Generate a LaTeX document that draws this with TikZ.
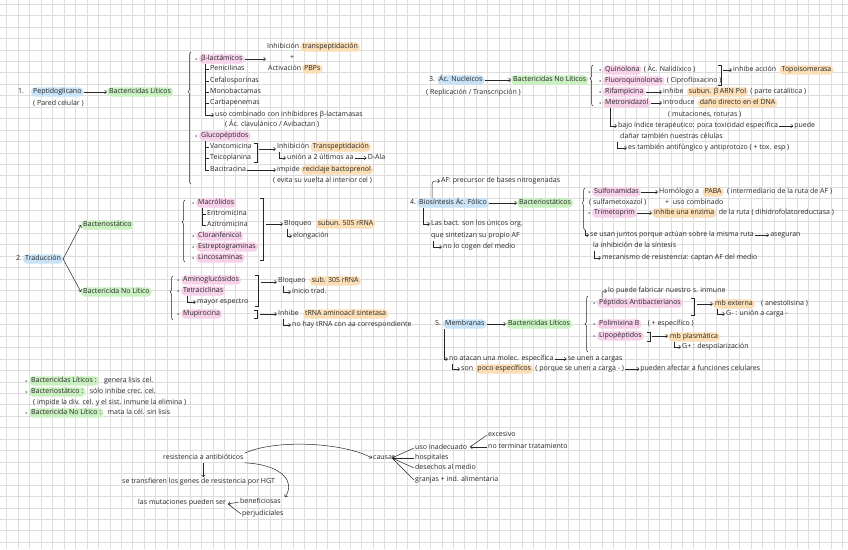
\documentclass[tikz,border=0pt]{standalone}
\usepackage{fontspec}
\setmainfont{Open Sans}
\usetikzlibrary{arrows.meta,positioning,decorations.pathreplacing}
\definecolor{ink}{HTML}{262626}
\definecolor{gridc}{HTML}{DEDEDE}
\definecolor{hlb}{HTML}{C9E2F6}
\definecolor{hlg}{HTML}{C8F0C0}
\definecolor{hlp}{HTML}{F7D0EA}
\definecolor{hlo}{HTML}{FBDDB6}
\tikzset{
  txt/.style={anchor=west, inner xsep=1pt, inner ysep=1pt, text height=5.5pt, text depth=1.7pt,
    text=ink, font=\fontsize{7}{8}\selectfont},
  hl/.style={txt, fill=#1, rounded corners=4pt, inner xsep=2pt},
  blu/.style={hl=hlb}, grn/.style={hl=hlg}, pnk/.style={hl=hlp}, org/.style={hl=hlo},
  bul/.style={label={[circle, fill=ink, inner sep=0pt, minimum size=1.5pt, label distance=2pt]left:}},
  ln/.style={draw=ink, line width=0.5pt},
  arr/.style={ln, -{Straight Barb[length=2pt,width=3.5pt]}},
  brc/.style={ln, decorate, decoration={brace, amplitude=3pt, aspect=#1}},
}
\begin{document}
\begin{tikzpicture}[x=1pt, y=-1pt]
  \fill[white] (0,0) rectangle (848,549);
  \useasboundingbox (0,0) rectangle (848,549);
  % grid paper
  \foreach \i in {0,...,73} \draw[gridc, line width=0.5pt] ({6.7+\i*11.45},0) -- ++(0,549);
  \foreach \j in {0,...,47} \draw[gridc, line width=0.5pt] (0,{3.95+\j*11.45}) -- ++(848,0);

  % 1. peptidoglicano
  \node[txt] (n1) at (17,92) {1.};
  \node[blu] (pep) at (31,92) {Peptidoglicano};
  \node[txt] (parcel) at (32,104) {( Pared celular )};
  \node[grn] (bl1) at (107,92) {Bactericidas Líticos};
  \draw[arr] (pep) -- (bl1);
  \draw[brc=0.7] (191,184) -- (191,52);
  \node[pnk, bul] (blac) at (199,59) {β-lactámicos};
  \node[txt] (inh) at (266,47) {Inhibición};
  \node[org, right=0pt of inh] (tp1) {transpeptidación};
  \node[txt, anchor=center] (plus1) at (292,58) {+};
  \node[txt] (act) at (267,69) {Activación};
  \node[org] (pbp) at (302,69) {PBPs};
  \draw[arr] (blac) -- (blac -| inh.west);
  \node[txt] (pen) at (209,69) {Penicilinas};
  \node[txt] (cef) at (209,81) {Cefalosporinas};
  \node[txt] (mono) at (209,92) {Monobactamas};
  \node[txt] (carb) at (209,103) {Carbapenemas};
  \node[txt] (uso) at (214,115) {uso combinado con inhibidores β-lactamasas};
  \node[txt] (clav) at (224,125) {( Ác. clavulánico / Avibactan )};
  \draw[arr] ([xshift=6pt]blac.south west) |- (uso);
  \foreach \n in {pen,cef,mono,carb} \draw[ln] (\n.west) -- ++(-4,0);
  \node[pnk, bul] (gluc) at (199,136) {Glucopéptidos};
  \node[txt] (vanc) at (209,147) {Vancomicina};
  \node[txt] (teic) at (209,158) {Teicoplanina};
  \node[txt] (baci) at (209,170) {Bacitracina};
  \draw[ln] ([xshift=6pt]gluc.south west) |- (baci.west);
  \foreach \n in {vanc,teic} \draw[ln] (\n.west) -- ++(-4,0);
  \draw[ln] (254,143) -| (257,162) -- (254,162);
  \coordinate (k1) at (259,149);
  \node[txt] (inh2) at (276,147) {Inhibición};
  \node[org, right=0pt of inh2] (tp2) {Transpeptidación};
  \draw[arr] (k1) -- (k1 -| inh2.west);
  \node[txt] (uni) at (286,158) {unión a 2 últimos aa};
  \node[txt, right=12pt of uni] (dala) {D-Ala};
  \draw[arr] ([xshift=3pt]inh2.south west) |- (uni);
  \draw[arr] (uni) -- (dala);
  \node[txt] (imp) at (276,170) {impide};
  \node[org, right=0pt of imp] (rec) {reciclaje bactoprenol};
  \draw[arr] (baci) -- (imp);
  \node[txt] (evi) at (272,181) {( evita su vuelta al interior cel )};

  % 2. traduccion
  \node[txt] (n2) at (15,259) {2.};
  \node[blu] (trad) at (23,259) {Traducción};
  \node[grn] (bsta) at (81,225) {Bacteriostático};
  \node[grn] (bcnl) at (81,292) {Bactericida No Lítico};
  \draw[arr] (trad.east) -- (bsta.west);
  \draw[arr] (trad.east) -- (bcnl.west);
  \draw[brc=0.645] (185,262) -- (185,200);
  \node[pnk, bul] (macr) at (196,203) {Macrólidos};
  \node[txt] (eri) at (206,214) {Eritromicina};
  \node[txt] (azi) at (206,225) {Azitromicina};
  \draw[ln] ([xshift=6pt]macr.south west) |- (azi.west);
  \draw[ln] (eri.west) -- ++(-4,0);
  \node[pnk, bul] (clor) at (196,236) {Cloranfenicol};
  \node[pnk, bul] (estr) at (196,247) {Estreptograminas};
  \node[pnk, bul] (linc) at (196,258) {Lincosaminas};
  \draw[ln] (260,198) -| (263,260) -- (260,260);
  \coordinate (k4) at (266,224);
  \node[txt] (blq1) at (283,224) {Bloqueo};
  \node[org, right=3pt of blq1] (s50) {subun. 50S rRNA};
  \draw[arr] (k4) -- (blq1);
  \node[txt] (elo) at (292,236) {elongación};
  \draw[arr] ([xshift=4pt]blq1.south west) |- (elo);
  \draw[brc=0.64] (173,320) -- (173,276);
  \node[pnk, bul] (amin) at (181,280) {Aminoglucósidos};
  \node[pnk, bul] (tetr) at (181,291) {Tetraciclinas};
  \node[txt] (may) at (196,302) {mayor espectro};
  \draw[arr] ([xshift=6pt]tetr.south west) |- (may);
  \node[pnk, bul] (mupi) at (181,314) {Mupirocina};
  \draw[ln] (255,275) -| (258,306) -- (255,306);
  \coordinate (k5) at (261,282);
  \node[txt] (blq2) at (277,281) {Bloqueo};
  \node[org, right=3pt of blq2] (s30) {sub. 30S rRNA};
  \draw[arr] (k5) -- (k5 -| blq2.west);
  \node[txt] (ini) at (291,292) {inicio trad.};
  \draw[arr] ([xshift=6pt]blq2.south west) |- (ini);
  \draw[ln] (254,310) -| (257,318) -- (254,318);
  \coordinate (k6) at (260,314);
  \node[txt] (inhi) at (277,314) {Inhibe};
  \node[org, right=3pt of inhi] (trna) {tRNA aminoacil sintetasa};
  \draw[arr] (k6) -- (inhi);
  \node[txt] (noh) at (291,325) {no hay tRNA con aa correspondiente};
  \draw[arr] ([xshift=6pt]inhi.south west) |- (noh);

  % 3. acidos nucleicos
  \node[txt] (n3) at (428,80) {3.};
  \node[blu] (anuc) at (437,80) {Ác. Nucleicos};
  \node[txt] (repl) at (425,93) {( Replicación / Transcripción )};
  \node[grn] (bnl1) at (511,80) {Bactericidas No Líticos};
  \draw[arr] (anuc) -- (bnl1);
  \draw[brc=0.67] (593,106) -- (593,65);
  \node[pnk, bul] (quin) at (603,70) {Quinolona};
  \node[txt, right=1pt of quin] (nal) {( Ác. Nalidíxico )};
  \node[pnk, bul] (fluo) at (603,81) {Fluoroquinolonas};
  \node[txt, right=1pt of fluo] (cip) {( Ciprofloxacino )};
  \node[pnk, bul] (rif) at (603,92) {Rifampicina};
  \node[txt] (inhb) at (662,92) {inhibe};
  \node[org, right=2pt of inhb] (subb) {subun. β ARN Pol};
  \node[txt, right=1pt of subb] (cat) {( parte catalítica )};
  \draw[arr] (rif) -- (inhb);
  \node[pnk, bul] (metr) at (603,103) {Metronidazol};
  \node[txt] (intr) at (662,103) {introduce};
  \node[org, right=2pt of intr] (dano) {daño directo en el DNA};
  \draw[arr] (metr) -- (intr);
  \node[txt] (mut) at (667,115) {( mutaciones, roturas )};
  \draw[ln] (718,65) -| (721,85) -- (718,85);
  \coordinate (k3) at (723,70);
  \node[txt] (inac) at (732,70) {inhibe acción};
  \node[org, right=2pt of inac] (topo) {Topoisomerasa};
  \draw[arr] (k3) -- (inac);
  \node[txt] (bajo) at (617,126) {bajo índice terapéutico: poca toxicidad específica};
  \node[txt, right=14pt of bajo] (pue) {puede};
  \draw[arr] ([xshift=7pt]metr.south west) |- (bajo);
  \draw[arr] (bajo) -- (pue);
  \node[txt] (dan2) at (619,137) {dañar también nuestras células};
  \node[txt] (antif) at (627,148) {es también antifúngico y antiprotozo ( + tox. esp )};
  \draw[arr] ([xshift=-2pt]dan2.south west) |- (antif);

  % 4. acido folico
  \node[txt] (n4) at (409,203) {4.};
  \node[blu] (fol) at (417,203) {Biosíntesis Ác. Fólico};
  \node[grn] (bst2) at (517,203) {Bacteriostáticos};
  \draw[arr] (fol) -- (bst2);
  \node[txt] (af) at (440,181) {AF: precursor de bases nitrogenadas};
  \draw[arr, rounded corners=3pt] ([xshift=15pt]fol.north west) |- (af);
  \node[txt] (bac) at (430,224) {Las bact. son los únicos org.};
  \node[txt] (sin) at (430,236) {que sintetizan su propio AF};
  \node[txt] (nol) at (442,247) {no lo cogen del medio};
  \draw[arr] ([xshift=6pt]fol.south west) |- (bac);
  \draw[arr] ([xshift=3pt]sin.south west) |- (nol);
  \draw[brc=0.64] (585,230) -- (585,188);
  \coordinate (b4) at (585,230);
  \node[pnk, bul] (sulf) at (592,192) {Sulfonamidas};
  \node[txt] (homo) at (658,192) {Homólogo a};
  \node[org, right=2pt of homo] (paba) {PABA};
  \node[txt, right=2pt of paba] (rut1) {( intermediario de la ruta de AF )};
  \draw[arr] (sulf) -- (homo);
  \node[txt] (smx) at (588,203) {( sulfametoxazol )};
  \node[txt] (usoc) at (664,203) {+ \ uso combinado};
  \node[pnk, bul] (trim) at (592,213) {Trimetoprim};
  \node[org] (enz) at (652,213) {inhibe una enzima};
  \node[txt, right=1pt of enz] (rut2) {de la ruta ( dihidrofolatoreductasa )};
  \draw[arr] (trim) -- (enz);
  \node[txt] (jun) at (589,235) {se usan juntos porque actúan sobre la misma ruta};
  \node[txt, right=14pt of jun] (aseg) {aseguran};
  \draw[arr] (b4) |- (jun);
  \draw[arr] (jun) -- (aseg);
  \node[txt] (lainh) at (592,246) {la inhibición de la síntesis};
  \node[txt] (mec) at (601,258) {mecanismo de resistencia: captan AF del medio};
  \draw[arr] ([xshift=2pt]lainh.south west) |- (mec);

  % 5. membranas
  \node[txt] (n5) at (434,324) {5.};
  \node[blu] (mem) at (443,324) {Membranas};
  \node[grn] (bl5) at (506,324) {Bactericidas Líticos};
  \draw[arr] (mem) -- (bl5);
  \draw[brc=0.5] (588,352) -- (588,296);
  \node[pnk, bul] (pep2) at (597,303) {Péptidos Antibacterianos};
  \node[txt] (lop) at (607,291) {lo puede fabricar nuestro s. inmune};
  \draw[arr, rounded corners=2pt] ([xshift=5pt]pep2.north west) |- (lop);
  \draw[ln] (691,298) -| (694,315) -- (691,315);
  \coordinate (k7) at (697,304);
  \node[org] (mbe) at (713,304) {mb externa};
  \node[txt, right=5pt of mbe] (anes) {( anestolisina )};
  \draw[arr] (k7) -- (mbe);
  \node[txt] (gneg) at (725,314) {G- : unión a carga -};
  \draw[arr] ([xshift=4pt]mbe.south west) |- (gneg);
  \node[pnk, bul] (poli) at (597,324) {Polimixina B};
  \node[txt, right=5pt of poli] (esp) {( + específico )};
  \node[pnk, bul] (lipo) at (597,336) {Lipopéptidos};
  \draw[ln] (647,332) -| (650,341) -- (647,341);
  \coordinate (k8) at (652,336);
  \node[org] (mbp) at (668,337) {mb plasmática};
  \draw[arr] (k8) -- (k8 -| mbp.west);
  \node[txt] (gpos) at (681,347) {G+ : despolarización};
  \draw[arr] ([xshift=6pt]mbp.south west) |- (gpos);
  \node[txt] (noat) at (448,359) {no atacan una molec. específica};
  \node[txt, right=12pt of noat] (seu) {se unen a cargas};
  \draw[arr] ([xshift=1pt]mem.south west) |- (noat);
  \draw[arr] (noat) -- (seu);
  \node[txt] (son) at (460,369) {son};
  \node[org, right=1pt of son] (poco) {poco específicos};
  \node[txt, right=1pt of poco] (porq) {( porque se unen a carga - )};
  \node[txt, right=14pt of porq] (pued) {pueden afectar a funciones celulares};
  \draw[arr] ([xshift=4pt]noat.south west) |- (son);
  \draw[arr] (porq) -- (pued);

  % leyenda
  \node[grn, bul] (lg1) at (29,381) {Bactericidas Líticos :};
  \node[txt, right=4pt of lg1] (lg1t) {genera lisis cel.};
  \node[grn, bul] (lg2) at (29,392) {Bacteriostático :};
  \node[txt, right=3pt of lg2] (lg2t) {sólo inhibe crec. cel.};
  \node[txt] (lg2b) at (32,403) {( impide la div. cel. y el sist. inmune la elimina )};
  \node[grn, bul] (lg3) at (29,413) {Bactericida No Lítico :};
  \node[txt, right=3pt of lg3] (lg3t) {mata la cél. sin lisis};

  % resistencia
  \node[txt] (res) at (162,458) {resistencia a antibióticos};
  \node[txt] (hgt) at (121,482) {se transfieren los genes de resistencia por HGT};
  \draw[arr] (res.south) -- (res.south |- hgt.north);
  \node[txt] (caus) at (372,458) {causas};
  \draw[arr] (res.north east) .. controls +(30,-14) and +(-30,-16) .. (caus.west);
  \node[txt] (mut2) at (137,503) {las mutaciones pueden ser};
  \node[txt] (ben) at (239,502) {beneficiosas};
  \node[txt] (per) at (241,514) {perjudiciales};
  \coordinate (mb) at (228,504);
  \draw[arr] (ben.west) -- (mb);
  \draw[ln] (mb) -- (per.west);
  \draw[arr] (res.south east) .. controls +(40,2) and +(10,-14) .. ([xshift=3pt]ben.north east);
  \coordinate (cv) at (392,458);
  \node[txt] (uso2) at (414,448) {uso inadecuado};
  \node[txt] (hosp) at (414,458) {hospitales};
  \node[txt] (des) at (414,468) {desechos al medio};
  \node[txt] (gra) at (414,480) {granjas + ind. alimentaria};
  \foreach \n in {uso2,des,gra} \draw[ln] (cv) -- (\n.west);
  \draw[arr] (hosp.west) -- (cv);
  \coordinate (cu) at (470,447);
  \node[txt] (exc) at (487,435) {excesivo};
  \node[txt] (nter) at (487,447) {no terminar tratamiento};
  \draw[ln] (cu) -- (exc.west);
  \draw[arr] (nter.west) -- (cu);
\end{tikzpicture}
\end{document}
